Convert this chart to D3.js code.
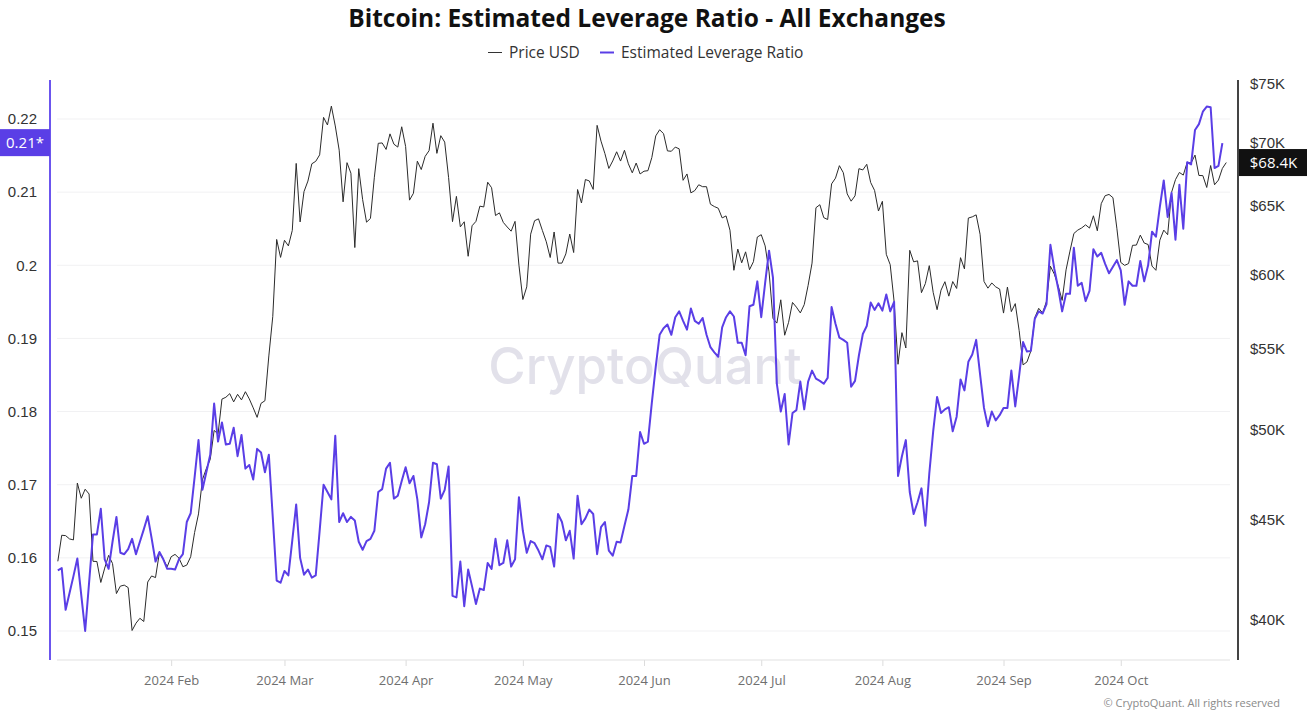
<!DOCTYPE html>
<html>
<head>
<meta charset="utf-8">
<script src="https://cdn.jsdelivr.net/npm/d3@7"></script>
<style>
html,body{margin:0;padding:0;background:#fff;}
svg{display:block;font-family:"Open Sans","Noto Sans",sans-serif;}
</style>
</head>
<body>
<svg id="chart" width="1307" height="716"></svg>
<script>
// ---------------- DATA ----------------
const chartTitle = "Bitcoin: Estimated Leverage Ratio - All Exchanges";
const seriesNames = ["Price USD", "Estimated Leverage Ratio"];
const startDate = "2024-01-03";           // first daily observation
const monthTicks = ["2024-02-01","2024-03-01","2024-04-01","2024-05-01","2024-06-01","2024-07-01","2024-08-01","2024-09-01","2024-10-01"];
const leftTicks = [0.15,0.16,0.17,0.18,0.19,0.2,0.21,0.22];
const rightTicks = [40000,45000,50000,55000,60000,65000,70000,75000];

// BTC price (USD thousands), daily from 2024-01-03
const priceK = [
 42.85,44.18,44.16,43.99,43.94,46.97,46.14,46.63,46.37,42.85,42.84,41.80,42.51,43.15,42.74,41.26,41.62,41.67,41.55,39.51,39.85,40.08,39.93,41.82,42.12,42.04,43.29,42.95,42.58,
 43.08,43.20,43.01,42.58,42.66,43.08,44.32,45.30,47.15,47.77,48.29,49.96,49.74,51.83,51.94,52.16,51.66,52.12,51.78,52.28,51.84,51.30,50.73,51.57,51.73,54.52,57.09,62.50,61.20,
 62.44,62.03,63.17,68.33,63.80,66.11,66.93,68.30,68.50,69.02,72.12,71.48,73.08,71.40,69.40,65.32,68.39,67.55,61.91,67.91,65.49,63.78,64.06,67.23,69.96,69.99,69.46,70.74,69.89,69.65,71.33,
 69.70,65.45,65.98,68.51,67.84,68.90,69.36,71.63,69.14,70.59,70.06,67.20,63.82,65.74,63.43,63.81,61.28,63.51,63.84,64.99,64.93,66.84,66.41,64.28,64.48,63.76,63.42,63.11,63.84,60.64,
 58.25,59.12,62.89,63.89,64.03,63.16,62.33,61.19,63.05,60.79,60.79,61.45,62.90,61.55,66.27,65.23,67.05,66.94,66.28,71.45,70.14,69.12,67.93,68.53,69.27,68.52,69.39,68.30,67.58,68.36,67.49,
 67.71,67.75,68.80,70.57,71.08,70.76,69.34,69.31,69.65,69.51,66.99,67.49,66.01,66.19,66.64,66.49,66.49,65.14,64.96,64.83,64.10,64.25,63.18,60.28,61.80,60.81,61.60,60.32,60.89,62.68,
 62.85,62.03,60.17,56.98,56.66,58.23,55.86,56.71,58.05,57.73,57.34,57.90,59.23,60.79,64.87,65.10,64.12,63.98,66.71,67.16,68.15,67.59,65.93,65.37,65.78,67.91,67.81,68.26,66.82,66.20,64.62,
 65.36,61.42,60.68,58.12,53.99,56.03,55.03,61.71,60.88,60.95,58.72,59.35,60.61,58.74,57.56,58.89,59.48,58.48,59.49,59.01,61.18,60.38,64.09,64.18,64.33,62.88,59.50,59.03,59.39,59.12,58.97,
 57.33,59.11,57.43,57.97,56.16,53.95,54.14,54.84,57.02,57.65,57.34,58.13,60.57,60.01,59.18,58.19,60.31,61.65,62.94,63.19,63.35,63.58,63.34,64.26,63.14,65.18,65.79,65.89,65.64,63.33,
 60.84,60.63,60.76,62.07,62.09,62.82,62.24,62.13,60.58,60.28,62.45,63.19,62.85,66.05,67.04,67.61,67.40,68.42,68.36,69.00,67.37,67.36,66.43,68.16,66.64,67.01,67.93,68.40
];

// Estimated leverage ratio, daily from 2024-01-03
const leverage = [
 .1583,.1586,.1529,.1552,.1575,.1599,.1549,.1500,.1566,.1632,.1632,.1667,.1598,.1585,.1622,.1656,.1607,.1605,.1612,.1626,.1605,.1622,.1639,.1657,.1627,.1595,.1608,.1598,.1585,
 .1585,.1584,.1598,.1605,.1649,.1661,.1710,.1761,.1693,.1717,.1741,.1811,.1759,.1785,.1755,.1756,.1778,.1739,.1768,.1722,.1727,.1707,.1749,.1744,.1717,.1741,.1656,.1569,.1566,
 .1582,.1576,.1624,.1673,.1600,.1577,.1584,.1573,.1576,.1637,.1700,.1690,.1680,.1767,.1649,.1661,.1649,.1656,.1651,.1622,.1611,.1623,.1626,.1637,.1690,.1694,.1722,.1730,.1681,
 .1685,.1705,.1724,.1702,.1712,.1680,.1628,.1646,.1676,.1730,.1728,.1681,.1693,.1725,.1548,.1546,.1595,.1534,.1584,.1561,.1537,.1558,.1556,.1593,.1585,.1626,.1590,.1593,.1624,
 .1588,.1598,.1683,.1637,.1607,.1623,.1620,.1610,.1598,.1617,.1615,.1588,.1660,.1649,.1624,.1637,.1599,.1685,.1646,.1654,.1666,.1660,.1605,.1642,.1649,.1610,.1603,.1622,.1621,
 .1644,.1666,.1712,.1712,.1772,.1756,.1759,.1812,.1861,.1905,.1914,.1919,.1905,.1929,.1937,.1924,.1912,.1941,.1924,.1920,.1928,.1905,.1888,.1881,.1875,.1915,.1929,.1937,.1930,
 .1894,.1894,.1877,.1944,.1946,.1978,.1929,.1976,.2020,.1983,.1838,.1800,.1824,.1755,.1798,.1802,.1841,.1803,.1841,.1856,.1845,.1842,.1838,.1846,.1943,.1920,.1901,.1898,.1894,
 .1834,.1842,.1877,.1906,.1917,.1949,.1939,.1948,.1938,.1960,.1937,.1950,.1712,.1739,.1761,.1690,.1660,.1676,.1695,.1644,.1715,.1773,.1820,.1798,.1803,.1806,.1773,.1793,.1844,
 .1829,.1868,.1878,.1898,.1851,.1805,.1780,.1800,.1788,.1795,.1805,.1805,.1856,.1807,.1849,.1895,.1882,.1883,.1927,.1937,.1934,.1947,.2028,.1995,.1968,.1937,.1961,.1961,.2024,
 .1972,.1976,.1951,.1965,.2022,.2012,.2017,.2002,.1989,.1998,.2007,.1993,.1946,.1978,.1972,.1972,.2006,.1978,.2000,.2046,.2039,.2080,.2116,.2066,.2099,.2035,.2110,.2050,.2141,
 .2138,.2185,.2193,.2210,.2217,.2216,.2133,.2136,.2167
];
const latestLeverageLabel = "0.21*";
const latestPriceLabel = "$68.4K";

// ---------------- CHART ----------------
const svg = d3.select("#chart");
const W = 1307, H = 716;
const plot = {left: 50, right: 1238, top: 80, bottom: 660};
const BLUE = "#5a3ee6";

const day0 = d3.utcParse("%Y-%m-%d")(startDate);
const dateAt = i => d3.utcDay.offset(day0, i);

const x = d3.scaleUtc()
  .domain([new Date(Date.UTC(2024,0,1)), new Date(Date.UTC(2024,9,31))])
  .range([plot.left, plot.right]);
const yL = d3.scaleLinear().domain([0.15, 0.22]).range([631, 119]);
const yR = d3.scaleLog().domain([40000, 75000]).range([620, 84]);

// watermark
svg.append("text").attr("x", 645).attr("y", 384).attr("text-anchor","middle")
  .attr("font-size", 51).attr("font-weight", 500).attr("fill", "#e2e1ea")
  .attr("font-family", "Inter, 'Open Sans', sans-serif")
  .text("CryptoQuant");

// gridlines
svg.append("g").selectAll("line").data(leftTicks).join("line")
  .attr("x1", 57).attr("x2", 1230)
  .attr("y1", d => yL(d)).attr("y2", d => yL(d))
  .attr("stroke", "#f1f1f3").attr("stroke-width", 1);

// x axis
const xAxis = d3.axisBottom(x)
  .tickValues(monthTicks.map(s => d3.utcParse("%Y-%m-%d")(s)))
  .tickFormat(d3.utcFormat("%Y %b")).tickSize(6).tickPadding(10);
const gx = svg.append("g").attr("transform", `translate(0,${plot.bottom})`).call(xAxis);
gx.select(".domain").remove();
gx.selectAll(".tick line").attr("stroke", "#dcdcdc");
gx.selectAll(".tick text").attr("fill", "#6f6f6f").attr("font-size", 13)
  .attr("font-family", "'Open Sans', sans-serif");
svg.append("line").attr("x1", 57).attr("x2", 1230).attr("y1", plot.bottom).attr("y2", plot.bottom)
  .attr("stroke", "#e2e2e2").attr("stroke-width", 1.2);

// left axis
const gl = svg.append("g").attr("transform", `translate(${plot.left},0)`)
  .call(d3.axisLeft(yL).tickValues(leftTicks).tickFormat(d3.format("")).tickSize(0).tickPadding(13));
gl.select(".domain").remove();
gl.selectAll(".tick text").attr("fill", "#333").attr("font-size", 15);
svg.append("line").attr("x1", plot.left).attr("x2", plot.left).attr("y1", plot.top).attr("y2", plot.bottom)
  .attr("stroke", "#6b55ee").attr("stroke-width", 2);

// right axis
const gr = svg.append("g").attr("transform", `translate(${plot.right},0)`)
  .call(d3.axisRight(yR).tickValues(rightTicks).tickFormat(d => "$" + (d/1000) + "K").tickSize(0).tickPadding(12));
gr.select(".domain").remove();
gr.selectAll(".tick text").attr("fill", "#333").attr("font-size", 15);
svg.append("line").attr("x1", plot.right).attr("x2", plot.right).attr("y1", plot.top).attr("y2", plot.bottom)
  .attr("stroke", "#444").attr("stroke-width", 2);

// lines
const priceLine = d3.line().x((d,i) => x(dateAt(i))).y(d => yR(d*1000));
const levLine = d3.line().x((d,i) => x(dateAt(i))).y(d => yL(d));
svg.append("path").datum(priceK).attr("d", priceLine)
  .attr("fill","none").attr("stroke","#2b2b2b").attr("stroke-width",1).attr("stroke-linejoin","round");
svg.append("path").datum(leverage).attr("d", levLine)
  .attr("fill","none").attr("stroke",BLUE).attr("stroke-width",2).attr("stroke-linejoin","round");

// latest value labels
const lastLev = leverage[leverage.length-1];
svg.append("rect").attr("x", 0).attr("y", yL(lastLev)-14).attr("width", plot.left).attr("height", 27).attr("fill", "#5a3ee6");
svg.append("text").attr("x", 25).attr("y", yL(lastLev)).attr("dy","0.35em").attr("text-anchor","middle")
  .attr("fill","#fff").attr("font-size",15).text(latestLeverageLabel);
const lastP = priceK[priceK.length-1]*1000;
svg.append("rect").attr("x", plot.right+1).attr("y", yR(lastP)-13.5).attr("width", W-plot.right-1).attr("height", 27).attr("fill", "#111");
svg.append("text").attr("x", (plot.right+W)/2+1).attr("y", yR(lastP)).attr("dy","0.35em").attr("text-anchor","middle")
  .attr("fill","#fff").attr("font-size",15).text(latestPriceLabel);

// title
svg.append("text").attr("x", 647).attr("y", 27).attr("text-anchor","middle")
  .attr("font-size", 24.5).attr("font-weight", 700).attr("fill", "#111").text(chartTitle);

// legend
const legend = [{name: seriesNames[0], color: "#333", w: 1, x: 488}, {name: seriesNames[1], color: BLUE, w: 2, x: 600}];
const lg = svg.append("g").selectAll("g").data(legend).join("g").attr("transform", d => `translate(${d.x},52.5)`);
lg.append("line").attr("x1",0).attr("x2",14).attr("stroke", d => d.color).attr("stroke-width", d => d.w);
lg.append("text").attr("x", 21).attr("dy","0.35em").attr("font-size",15.5).attr("fill","#333").text(d => d.name);

// footer
svg.append("text").attr("x", 1280).attr("y", 707).attr("text-anchor","end")
  .attr("font-size", 11).attr("fill", "#8a8a8a").text("© CryptoQuant. All rights reserved");
</script>
</body>
</html>
